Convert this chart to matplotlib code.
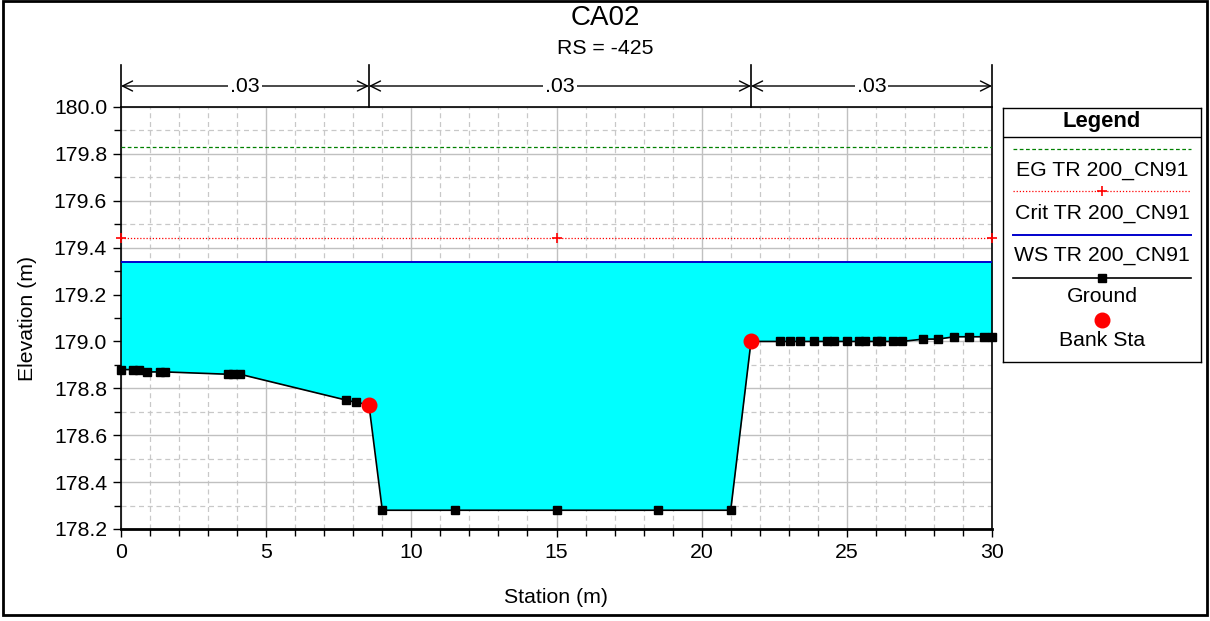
import numpy as np
import matplotlib
matplotlib.use('Agg')
import matplotlib.pyplot as plt
from matplotlib.lines import Line2D
from matplotlib.patches import Rectangle
from matplotlib.ticker import MultipleLocator

plt.rcParams['font.family'] = ['Liberation Sans', 'DejaVu Sans']

# Cross section data
station = [0.0, 0.42, 0.63, 0.88, 1.34, 1.52, 3.7, 3.86, 4.1, 7.75, 8.1, 8.54,
           9.0, 11.5, 15.0, 18.5, 21.0, 21.7,
           22.7, 23.04, 23.39, 23.88, 24.33, 24.56, 24.99, 25.43, 25.63,
           26.03, 26.17, 26.58, 26.89, 27.64, 28.15, 28.7, 29.22, 29.74, 30.0]
elevation = [178.88, 178.88, 178.88, 178.87, 178.87, 178.87, 178.86, 178.86, 178.86,
             178.75, 178.74, 178.73,
             178.28, 178.28, 178.28, 178.28, 178.28, 179.00,
             179.00, 179.00, 179.00, 179.00, 179.00, 179.00, 179.00, 179.00, 179.00,
             179.00, 179.00, 179.00, 179.00, 179.01, 179.01, 179.02, 179.02, 179.02, 179.02]
bank_sta = [8.54, 21.7]
bank_elev = [178.73, 179.00]
ws_elev = 179.34
crit_elev = 179.44
eg_elev = 179.83
crit_marks = [0.0, 15.0, 30.0]
n_values = ['.03', '.03', '.03']
n_breaks = [0.0, 8.54, 21.7, 30.0]

title = 'CA02'
subtitle = 'RS = -425'

FS = 15.3

fig = plt.figure(figsize=(12.1, 6.21), dpi=100)
W, H = 1210, 621
ax = fig.add_axes([121 / W, 1 - 529 / H, (992 - 121) / W, (529 - 107) / H])

st = np.array(station)
el = np.array(elevation)

# water fill
ax.fill_between(st, el, ws_elev, where=el < ws_elev, color='#00ffff', zorder=1, linewidth=0)

# profile lines
ax.plot([0, 30], [eg_elev, eg_elev], color='#008000', linestyle=(0, (3, 2)), linewidth=0.9, zorder=3)
ax.plot([0, 30], [crit_elev, crit_elev], color='red', linestyle=(0, (1, 1.5)), linewidth=0.9, zorder=3)
ax.plot(crit_marks, [crit_elev] * len(crit_marks), linestyle='none', marker='+', color='red',
        markersize=7, markeredgewidth=1.2, zorder=4, clip_on=False)
ax.plot([0, 30], [ws_elev, ws_elev], color='#0000cc', linewidth=1.4, zorder=3)

ax.plot(st, el, color='black', linewidth=1.2, marker='s', markersize=6.3, zorder=5, clip_on=False)
ax.plot(bank_sta, bank_elev, linestyle='none', marker='o', color='red', markersize=10.5, zorder=6)

ax.set_xlim(0, 30)
ax.set_ylim(178.2, 180.0)
ax.xaxis.set_major_locator(MultipleLocator(5))
ax.xaxis.set_minor_locator(MultipleLocator(1))
ax.yaxis.set_major_locator(MultipleLocator(0.2))
ax.yaxis.set_minor_locator(MultipleLocator(0.1))
ax.yaxis.set_major_formatter(matplotlib.ticker.FormatStrFormatter('%.1f'))
ax.grid(True, which='major', color='#c0c0c0', linestyle='-', linewidth=1.0, zorder=0)
ax.grid(True, which='minor', color='#c8c8c8', linestyle=(0, (4, 3)), linewidth=0.9, zorder=0)
ax.set_axisbelow(True)
ax.tick_params(axis='both', which='major', direction='out', length=6, width=1, labelsize=FS, pad=4)
ax.tick_params(axis='both', which='minor', direction='out', length=5, width=1)
ax.tick_params(axis='y', which='both', left=True, right=False)
ax.tick_params(axis='x', which='both', bottom=True, top=False)
for sp in ax.spines.values():
    sp.set_linewidth(1.2)
ax.spines['bottom'].set_linewidth(2.0)
ax.set_xlabel('Station (m)', fontsize=FS, labelpad=19)
ax.set_ylabel('Elevation (m)', fontsize=FS, labelpad=12)

# Manning's n brackets above the plot
arrow_y = (529 - 86) / 422
top_y = (529 - 65) / 422
tr = ax.get_xaxis_transform()
for xb in n_breaks:
    ax.add_line(Line2D([xb, xb], [1.0, top_y], transform=tr, color='black', linewidth=1.2, clip_on=False))
for i, nv in enumerate(n_values):
    x0, x1 = n_breaks[i], n_breaks[i + 1]
    ax.annotate('', xy=(x1, arrow_y), xytext=(x0, arrow_y), xycoords=tr, textcoords=tr,
                arrowprops=dict(arrowstyle='<->', color='black', linewidth=1.0,
                                shrinkA=0, shrinkB=0, mutation_scale=18))
    ax.text((x0 + x1) / 2, arrow_y, nv, transform=tr, ha='center', va='center', fontsize=FS,
            bbox=dict(facecolor='white', edgecolor='none', pad=1.5), clip_on=False)

fig.text(0.5, 1 - 18 / H, title, ha='center', va='center', fontsize=20)
fig.text(0.5, 1 - 48 / H, subtitle, ha='center', va='center', fontsize=FS)

# Legend box drawn by hand
lax = fig.add_axes([1003 / W, 1 - 362 / H, (1201 - 1003) / W, (362 - 108) / H])
lax.set_xlim(0, 198)
lax.set_ylim(254, 0)
lax.set_xticks([])
lax.set_yticks([])
for sp in lax.spines.values():
    sp.set_linewidth(1.0)
lax.axhline(29, color='black', linewidth=1.0)
lax.text(99, 13, 'Legend', ha='center', va='center', fontsize=FS + 0.5, fontweight='bold')
lx = [10, 188]
lax.plot(lx, [41, 41], color='#008000', linestyle=(0, (3, 2)), linewidth=0.9)
lax.text(99, 62, 'EG TR 200_CN91', ha='center', va='center', fontsize=FS)
lax.plot(lx, [83, 83], color='red', linestyle=(0, (1, 1.5)), linewidth=0.9)
lax.plot([99], [83], marker='+', color='red', markersize=7, markeredgewidth=1.2)
lax.text(99, 105, 'Crit TR 200_CN91', ha='center', va='center', fontsize=FS)
lax.plot(lx, [127, 127], color='#0000cc', linewidth=1.4)
lax.text(99, 147, 'WS TR 200_CN91', ha='center', va='center', fontsize=FS)
lax.plot(lx, [170, 170], color='black', linewidth=1.2)
lax.plot([99], [170], marker='s', color='black', markersize=6.3)
lax.text(99, 189, 'Ground', ha='center', va='center', fontsize=FS)
lax.plot([99], [212], marker='o', color='red', markersize=10.5)
lax.text(99, 232, 'Bank Sta', ha='center', va='center', fontsize=FS)

# outer frame
fig.patches.append(Rectangle((3 / W, 1 - 615 / H), (1207 - 3) / W, (615 - 1) / H,
                             transform=fig.transFigure, fill=False, edgecolor='black', linewidth=2))

fig.savefig('out.png', dpi=100)
